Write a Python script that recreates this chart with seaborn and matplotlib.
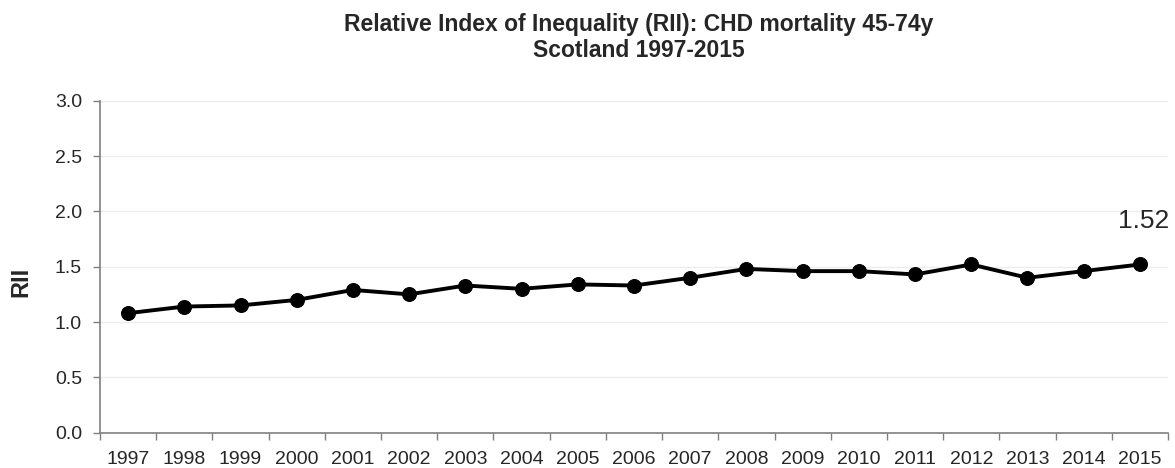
import matplotlib
matplotlib.use("Agg")
import matplotlib.pyplot as plt
import seaborn as sns
import pandas as pd
import numpy as np

years = ["1997", "1998", "1999", "2000", "2001", "2002", "2003", "2004", "2005", "2006",
         "2007", "2008", "2009", "2010", "2011", "2012", "2013", "2014", "2015"]
rii = [1.08, 1.14, 1.15, 1.20, 1.29, 1.25, 1.33, 1.30, 1.34, 1.33,
       1.40, 1.48, 1.46, 1.46, 1.43, 1.52, 1.40, 1.46, 1.52]
yticks = [0.0, 0.5, 1.0, 1.5, 2.0, 2.5, 3.0]
title = "Relative Index of Inequality (RII): CHD mortality 45-74y\nScotland 1997-2015"
last_label = "1.52"

sns.set_style("white")
plt.rcParams['font.family'] = ['Liberation Sans', 'DejaVu Sans']

df = pd.DataFrame({"pos": np.arange(len(years)), "year": years, "rii": rii})

fig = plt.figure(figsize=(11.75, 4.68), dpi=100)
ax = fig.add_axes([100/1175, 1 - 432.7/468, 1068/1175, 332/468])

sns.lineplot(data=df, x="pos", y="rii", ax=ax, color="black", linewidth=2.8,
             marker="o", markersize=10, markeredgecolor="black", markerfacecolor="black",
             sort=False, legend=False)

ax.set_xlim(-0.5, len(years) - 0.5)
ax.set_ylim(0, 3.0)
ax.set_yticks(yticks)
ax.set_yticklabels([f"{v:.1f}" for v in yticks], fontsize=14)
ax.set_xticks(df["pos"])
ax.set_xticklabels(years, fontsize=14)
ax.set_xticks(np.arange(-0.5, len(years)), minor=True)
ax.tick_params(axis="x", which="major", length=0, pad=13)
ax.tick_params(axis="x", which="minor", length=5, width=1, color="#808080", direction="out", bottom=True)
ax.tick_params(axis="y", which="major", length=5, width=1, color="#808080", direction="out", left=True, pad=8)

ax.grid(axis="y", color="#ececec", linewidth=1)
ax.grid(axis="x", visible=False)
for s in ["top", "right"]:
    ax.spines[s].set_visible(False)
for s in ["left", "bottom"]:
    ax.spines[s].set_color("#808080")
    ax.spines[s].set_linewidth(1.2)

ax.set_xlabel("")
ax.set_ylabel("RII", fontsize=17, fontweight="bold")
ax.yaxis.set_label_coords(-0.063, 0.454)

ax.annotate(last_label, xy=(df["pos"].iloc[-1], rii[-1]), xytext=(2.5, 31.5),
            textcoords="offset points", ha="center", va="center", fontsize=19)

fig.text(639/1175, 1 - 37.5/468, title, ha="center", va="center", ma="center",
         fontsize=16.5, fontweight="bold", linespacing=1.2)

fig.savefig("out.png", dpi=100)
